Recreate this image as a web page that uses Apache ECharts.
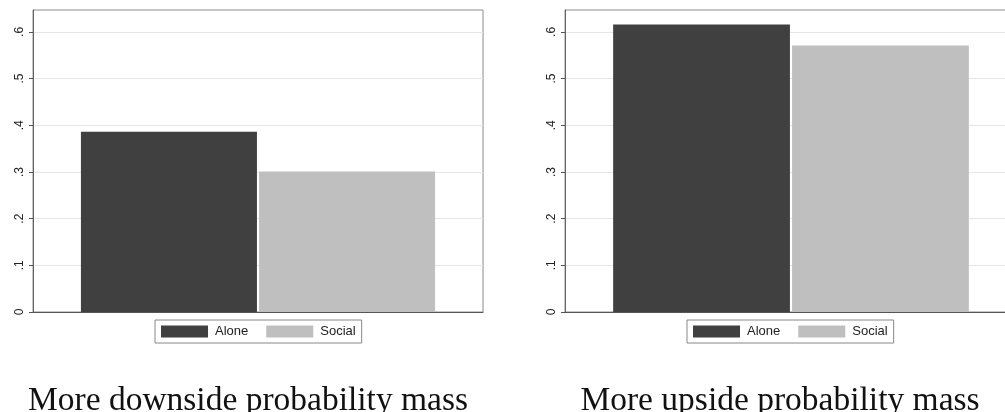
<!DOCTYPE html>
<html>
<head>
<meta charset="utf-8">
<script src="https://cdn.jsdelivr.net/npm/echarts@6/dist/echarts.min.js"></script>
<style>
html,body{margin:0;padding:0;background:#fff;}
#c{width:1005px;height:412px;}
</style>
</head>
<body>
<div id="c"></div>
<script>
const categories = [''];
const seriesNames = ['Alone', 'Social'];
const panelTitles = ['More downside probability mass', 'More upside probability mass'];
const aloneValues = [0.386, 0.616];
const socialValues = [0.301, 0.571];
const yTickValues = [0, 0.1, 0.2, 0.3, 0.4, 0.5, 0.6];
const yTickLabels = ['0', '.1', '.2', '.3', '.4', '.5', '.6'];
const yMax = 0.647;

const chart = echarts.init(document.getElementById('c'), null, {renderer: 'canvas'});

const grids = [
  {left: 33, top: 10, width: 450, height: 302},
  {left: 565, top: 10, width: 452, height: 302}
];
const legendLefts = [155, 687];
const titleCenters = [243, 775];

const xAxes = [], yAxes = [], series = [], legends = [], titles = [];
grids.forEach((g, i) => {
  xAxes.push({
    type: 'category', gridIndex: i, data: categories,
    axisLine: {show: true, lineStyle: {color: '#555', width: 1}},
    axisTick: {show: false}, axisLabel: {show: false}, splitLine: {show: false}
  });
  yAxes.push({
    type: 'value', gridIndex: i, min: 0, max: yMax, interval: 0.1,
    axisLine: {show: true, lineStyle: {color: '#666', width: 1}},
    axisTick: {show: true, length: 4, lineStyle: {color: '#555'}, customValues: yTickValues},
    axisLabel: {
      rotate: 90, margin: 7, fontFamily: 'Liberation Sans', fontSize: 12, color: '#222',
      customValues: yTickValues,
      formatter: v => {
        const k = yTickValues.findIndex(t => Math.abs(t - v) < 1e-6);
        return k >= 0 ? yTickLabels[k] : '';
      }
    },
    splitLine: {show: true, lineStyle: {color: '#e6e6e6', width: 1}}
  });
  series.push({
    name: seriesNames[0], type: 'bar', xAxisIndex: i, yAxisIndex: i,
    data: [aloneValues[i]], itemStyle: {color: '#404040'},
    barCategoryGap: '21.3%', barGap: '1.2%'
  });
  series.push({
    name: seriesNames[1], type: 'bar', xAxisIndex: i, yAxisIndex: i,
    data: [socialValues[i]], itemStyle: {color: '#bfbfbf'},
    barCategoryGap: '21.3%', barGap: '1.2%'
  });
  legends.push({
    data: seriesNames, left: legendLefts[i], top: 320, orient: 'horizontal',
    itemWidth: 47, itemHeight: 12, itemGap: 18,
    borderColor: '#888', borderWidth: 1, padding: [5, 6, 5, 6],
    icon: 'rect', selectedMode: false,
    textStyle: {fontFamily: 'Liberation Sans', fontSize: 13, color: '#222', padding: [0, 0, 0, 2]}
  });
  titles.push({
    text: panelTitles[i], left: titleCenters[i], textAlign: 'center', top: 379,
    textStyle: {fontFamily: 'Liberation Serif', fontWeight: 'normal', fontSize: 33.5, color: '#111'}
  });
});

chart.setOption({
  animation: false,
  backgroundColor: '#fff',
  title: titles,
  legend: legends,
  grid: grids.map(g => Object.assign({show: true, borderColor: '#8c8c8c', borderWidth: 1, backgroundColor: 'transparent', outerBoundsMode: 'none', containLabel: false}, g)),
  xAxis: xAxes,
  yAxis: yAxes,
  series: series
});
</script>
</body>
</html>
